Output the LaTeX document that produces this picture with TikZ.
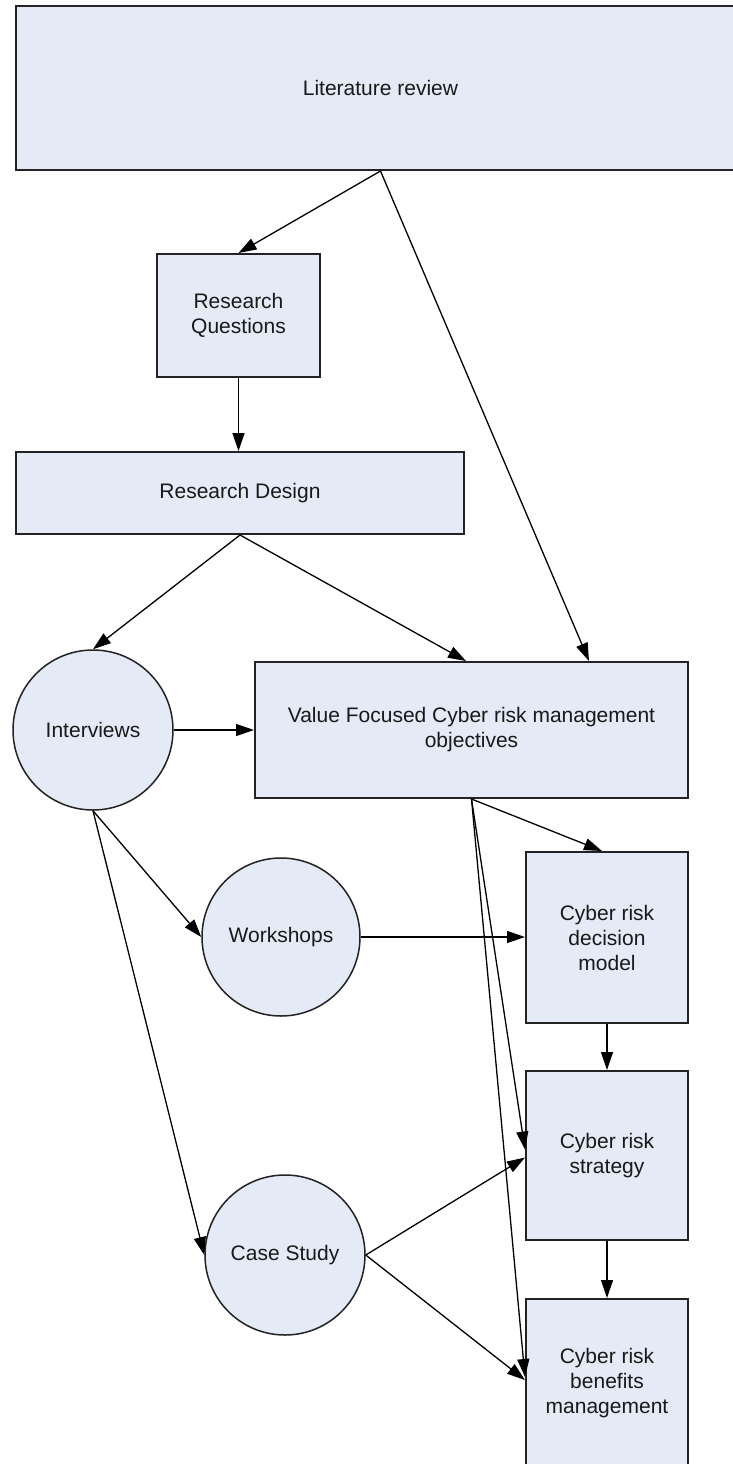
\documentclass[tikz,border=0pt]{standalone}
\usepackage{fontspec}
\setmainfont{Liberation Sans}
\usetikzlibrary{arrows.meta,calc}
\definecolor{boxfill}{RGB}{228,234,246}
\definecolor{edgegray}{RGB}{35,35,35}
\begin{document}
\begin{tikzpicture}[x=1pt,y=-1pt,
  every node/.style={font=\fontsize{21}{25}\selectfont, text=black!90},
  box/.style={draw=edgegray, line width=2pt, fill=boxfill, rectangle, inner sep=0pt, align=center},
  ring/.style={draw=edgegray, line width=1.5pt, fill=boxfill, circle, inner sep=0pt},
  link/.style={draw=black, line width=1.3pt, -{Triangle[length=18pt,width=12pt]}}
]
\useasboundingbox (0,0) rectangle (733,1464);
\clip (0,0) rectangle (733,1464);
\fill[white] (0,0) rectangle (733,1464);

% process boxes
\node[box, minimum width=729pt, minimum height=164pt] (lit) at (380.5,88) {Literature review};
\node[box, minimum width=163pt, minimum height=123pt] (rq) at (238.5,315.5) {Research\\Questions};
\node[box, minimum width=448pt, minimum height=82pt] (rd) at (240,493) {Research Design};
\node[box, minimum width=433pt, minimum height=136pt] (vf) at (471.5,730) {Value Focused Cyber risk management\\objectives};
\node[box, minimum width=162pt, minimum height=171pt] (dec) at (607,937.5) {Cyber risk\\decision\\model};
\node[box, minimum width=162pt, minimum height=169pt] (strat) at (607,1155.5) {Cyber risk\\strategy};
\node[box, minimum width=162pt, minimum height=168pt] (ben) at (607,1383) {Cyber risk\\benefits\\management};

% data sources
\node[ring, minimum size=160pt] (int) at (93,730) {Interviews};
\node[ring, minimum size=158pt] (ws) at (281,937) {Workshops};
\node[ring, minimum size=160pt] (cs) at (285,1255) {Case Study};

% connectors
\draw[link] (lit.south) -- (rq.north);
\draw[link] (lit.south) -- ($(vf.north west)+(335,0)$);
\draw[link] (rq.south) -- (rq.south |- rd.north);
\draw[link] (rd.south) -- (int.north);
\draw[link] (rd.south) -- ($(vf.north west)+(212,0)$);
\draw[link] (int.east) -- (vf.west);
\draw[link] (int.south) -- (ws.west);
\draw[link] (int.south) -- (cs.west);
\draw[link] (ws.east) -- (ws.east -| dec.west);
\draw[link] (vf.south) -- ($(dec.north)+(-5,0)$);
\draw[link] (vf.south) -- ([yshift=6pt]strat.west);
\draw[link] (vf.south) -- ([yshift=6pt]ben.west);
\draw[link] (cs.east) -- ([yshift=-2pt]strat.west);
\draw[link] (cs.east) -- ([yshift=3pt]ben.west);
\draw[link] (dec.south) -- (strat.north);
\draw[link] (strat.south) -- (ben.north);
\end{tikzpicture}
\end{document}
